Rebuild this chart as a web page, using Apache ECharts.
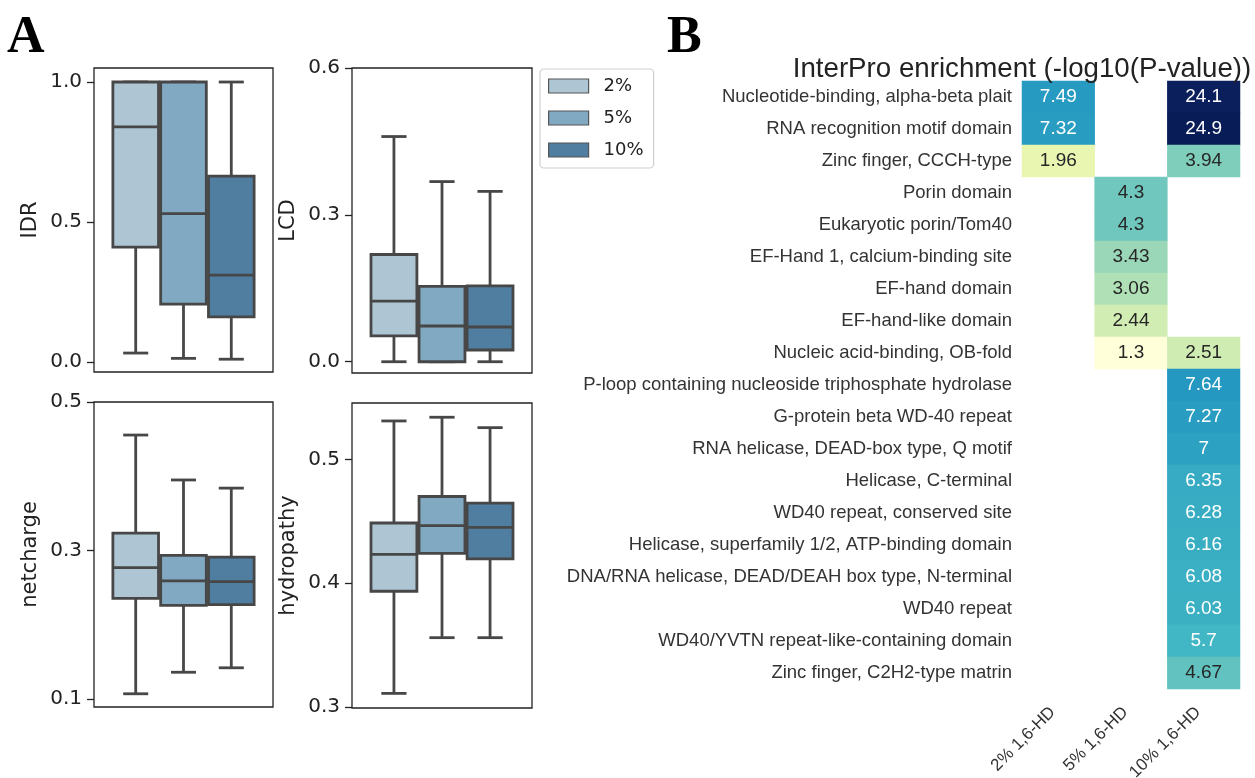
<!DOCTYPE html>
<html><head><meta charset="utf-8">
<script src="https://cdn.jsdelivr.net/npm/echarts@6/dist/echarts.min.js"></script>
<style>html,body{margin:0;padding:0;background:#fff}#c{width:1255px;height:778px}</style>
</head><body><div id="c"></div>
<script>
// ---------- Panel A data: box statistics [low whisker, Q1, median, Q3, high whisker] ----------
const groups = ['2%', '5%', '10%'];
const idrStats = [[0.032, 0.41, 0.84, 1.0, 1.0], [0.013, 0.207, 0.53, 1.0, 1.0], [0.01, 0.161, 0.31, 0.664, 1.0]];
const lcdStats = [[0.0, 0.053, 0.124, 0.219, 0.46], [0.0, 0.0, 0.073, 0.154, 0.368], [0.0, 0.024, 0.071, 0.155, 0.348]];
const netchargeStats = [[0.107, 0.2355, 0.277, 0.3233, 0.4555], [0.136, 0.226, 0.259, 0.2935, 0.395], [0.142, 0.227, 0.258, 0.291, 0.384]];
const hydropathyStats = [[0.311, 0.3935, 0.4232, 0.4486, 0.531], [0.356, 0.424, 0.4465, 0.470, 0.534], [0.356, 0.4196, 0.445, 0.4646, 0.5256]];
const panelNames = ['IDR', 'LCD', 'netcharge', 'hydropathy'];
const idrTicks = [0.0, 0.5, 1.0];
const lcdTicks = [0.0, 0.3, 0.6];
const netchargeTicks = [0.1, 0.3, 0.5];
const hydropathyTicks = [0.3, 0.4, 0.5];

// ---------- Panel B data ----------
const domains = [
  'Nucleotide-binding, alpha-beta plait',
  'RNA recognition motif domain',
  'Zinc finger, CCCH-type',
  'Porin domain',
  'Eukaryotic porin/Tom40',
  'EF-Hand 1, calcium-binding site',
  'EF-hand domain',
  'EF-hand-like domain',
  'Nucleic acid-binding, OB-fold',
  'P-loop containing nucleoside triphosphate hydrolase',
  'G-protein beta WD-40 repeat',
  'RNA helicase, DEAD-box type, Q motif',
  'Helicase, C-terminal',
  'WD40 repeat, conserved site',
  'Helicase, superfamily 1/2, ATP-binding domain',
  'DNA/RNA helicase, DEAD/DEAH box type, N-terminal',
  'WD40 repeat',
  'WD40/YVTN repeat-like-containing domain',
  'Zinc finger, C2H2-type matrin'
];
const conditions = ['2% 1,6-HD', '5% 1,6-HD', '10% 1,6-HD'];
const enrich2 = [7.49, 7.32, 1.96, null, null, null, null, null, null, null, null, null, null, null, null, null, null, null, null];
const enrich5 = [null, null, null, 4.3, 4.3, 3.43, 3.06, 2.44, 1.3, null, null, null, null, null, null, null, null, null, null];
const enrich10 = [24.1, 24.9, 3.94, null, null, null, null, null, 2.51, 7.64, 7.27, 7, 6.35, 6.28, 6.16, 6.08, 6.03, 5.7, 4.67];

// ---------- styling ----------
const boxColors = ['#aec6d4', '#82a9c2', '#4f7ea1'];
const LINE = '#474747';
const LW = 2.8;
const GROUP_SPACING = 0.267;
const BOX_W = 0.255;
const CAP_W = 0.14;
const FONT_A = 'DejaVu Sans';
const FONT_B = 'Liberation Sans, Arial, sans-serif';
const YlGnBu = ['#ffffd9', '#edf8b1', '#c7e9b4', '#7fcdbb', '#41b6c4', '#1d91c0', '#225ea8', '#253494', '#081d58'];

const panels = [
  { stats: idrStats, ticks: idrTicks, name: panelNames[0], left: 94, top: 68, width: 179, height: 304, min: -0.0357, max: 1.05 },
  { stats: lcdStats, ticks: lcdTicks, name: panelNames[1], left: 352, top: 68, width: 180, height: 305, min: -0.023, max: 0.6 },
  { stats: netchargeStats, ticks: netchargeTicks, name: panelNames[2], left: 94, top: 402, width: 179, height: 305, min: 0.0892, max: 0.5 },
  { stats: hydropathyStats, ticks: hydropathyTicks, name: panelNames[3], left: 352, top: 403, width: 180, height: 305, min: 0.2992, max: 0.5455 }
];

function boxRender(params, api) {
  const gi = api.value(0);
  const xc = (gi - 1) * GROUP_SPACING;
  const low = api.coord([xc, api.value(1)]);
  const q1 = api.coord([xc, api.value(2)]);
  const med = api.coord([xc, api.value(3)]);
  const q3 = api.coord([xc, api.value(4)]);
  const high = api.coord([xc, api.value(5)]);
  const l = api.coord([xc - BOX_W / 2, 0])[0];
  const r = api.coord([xc + BOX_W / 2, 0])[0];
  const cl = api.coord([xc - CAP_W / 2, 0])[0];
  const cr = api.coord([xc + CAP_W / 2, 0])[0];
  const st = { stroke: LINE, lineWidth: LW };
  return {
    type: 'group',
    children: [
      { type: 'line', shape: { x1: low[0], y1: low[1], x2: q1[0], y2: q1[1] }, style: st },
      { type: 'line', shape: { x1: high[0], y1: high[1], x2: q3[0], y2: q3[1] }, style: st },
      { type: 'line', shape: { x1: cl, y1: low[1], x2: cr, y2: low[1] }, style: st },
      { type: 'line', shape: { x1: cl, y1: high[1], x2: cr, y2: high[1] }, style: st },
      { type: 'rect', shape: { x: l, y: q3[1], width: r - l, height: q1[1] - q3[1] },
        style: { fill: api.visual('color'), stroke: LINE, lineWidth: LW } },
      { type: 'line', shape: { x1: l, y1: med[1], x2: r, y2: med[1] }, style: st }
    ]
  };
}

const grid = [], xAxis = [], yAxis = [], series = [];
panels.forEach((p, pi) => {
  grid.push({ left: p.left, top: p.top, width: p.width, height: p.height, outerBoundsMode: 'none', containLabel: false, show: true, borderColor: '#222', borderWidth: 1.3, backgroundColor: 'transparent' });
  xAxis.push({ type: 'value', gridIndex: pi, min: -0.5, max: 0.5, show: false });
  yAxis.push({
    type: 'value', gridIndex: pi, min: p.min, max: p.max, position: 'left',
    name: p.name, nameLocation: 'middle', nameGap: 53,
    nameTextStyle: { fontFamily: FONT_A, fontSize: 21, color: '#222' },
    axisLine: { show: false, onZero: false },
    axisTick: { show: true, length: 7, lineStyle: { color: '#222', width: 1.3 }, customValues: p.ticks },
    axisLabel: { show: true, margin: 12, fontFamily: FONT_A, fontSize: 20, color: '#222', customValues: p.ticks, formatter: v => v.toFixed(1) },
    splitLine: { show: false }
  });
  groups.forEach((g, gi) => {
    series.push({
      type: 'custom', name: g, xAxisIndex: pi, yAxisIndex: pi,
      itemStyle: { color: boxColors[gi] },
      renderItem: boxRender,
      encode: { x: 0, y: [1, 2, 3, 4, 5] },
      data: [[gi].concat(p.stats[gi])],
      silent: true
    });
  });
});

// heatmap
const hmIndex = panels.length;
grid.push({ left: 1022, top: 81, width: 218, height: 608, outerBoundsMode: 'none', containLabel: false });
xAxis.push({
  type: 'category', gridIndex: hmIndex, data: conditions, position: 'bottom',
  axisLine: { show: false }, axisTick: { show: false },
  axisLabel: { rotate: 45, fontFamily: FONT_B, fontSize: 17, color: '#333', margin: 15, interval: 0, padding: [0, 8, 0, 0] }
});
yAxis.push({
  type: 'category', gridIndex: hmIndex, data: domains, inverse: true,
  axisLine: { show: false }, axisTick: { show: false },
  axisLabel: { fontFamily: FONT_B, fontSize: 18.5, color: '#333', margin: 10, interval: 0 }
});
const hmData = [];
[enrich2, enrich5, enrich10].forEach((col, ci) => {
  col.forEach((v, ri) => {
    if (v === null) return;
    hmData.push({
      value: [ci, ri, v, Math.log10(v)],
      label: { color: v >= 5 ? '#ffffff' : '#262626' }
    });
  });
});
const allVals = enrich2.concat(enrich5, enrich10).filter(v => v !== null);
series.push({
  type: 'heatmap', xAxisIndex: hmIndex, yAxisIndex: hmIndex, data: hmData,
  label: { show: true, fontFamily: FONT_B, fontSize: 19, formatter: p => String(p.value[2]) },
  itemStyle: { borderWidth: 0 },
  emphasis: { disabled: true }
});

const option = {
  backgroundColor: '#ffffff',
  animation: false,
  title: {
    text: 'InterPro enrichment (-log10(P-value))',
    left: 1017, top: 50, textAlign: 'center',
    textStyle: { fontFamily: FONT_B, fontSize: 27.7, fontWeight: 'normal', color: '#222' }
  },
  legend: {
    orient: 'vertical', left: 540, top: 69,
    data: groups.map((g, gi) => ({ name: g, icon: 'rect', itemStyle: { color: boxColors[gi], borderColor: '#555', borderWidth: 1.2 } })),
    itemWidth: 40, itemHeight: 14, itemGap: 14,
    textStyle: { fontFamily: FONT_A, fontSize: 18, color: '#222', padding: [0, 0, 0, 10] },
    backgroundColor: '#fff', borderColor: '#d0d0d0', borderWidth: 1.2, borderRadius: 4,
    padding: [8, 10, 9, 8],
    selectedMode: false
  },
  visualMap: {
    show: false, type: 'continuous', seriesIndex: series.length - 1, dimension: 3,
    min: Math.log10(Math.min.apply(null, allVals)), max: Math.log10(Math.max.apply(null, allVals)),
    inRange: { color: YlGnBu }
  },
  graphic: [
    { type: 'text', left: 7, top: 13, style: { text: 'A', fontFamily: 'Liberation Serif, Times New Roman, serif', fontWeight: 'bold', fontSize: 52, fill: '#000' } },
    { type: 'text', left: 667, top: 13, style: { text: 'B', fontFamily: 'Liberation Serif, Times New Roman, serif', fontWeight: 'bold', fontSize: 52, fill: '#000' } }
  ],
  grid, xAxis, yAxis, series
};
const chart = echarts.init(document.getElementById('c'), null, { renderer: 'canvas' });
chart.setOption(option);
</script>
</body></html>
